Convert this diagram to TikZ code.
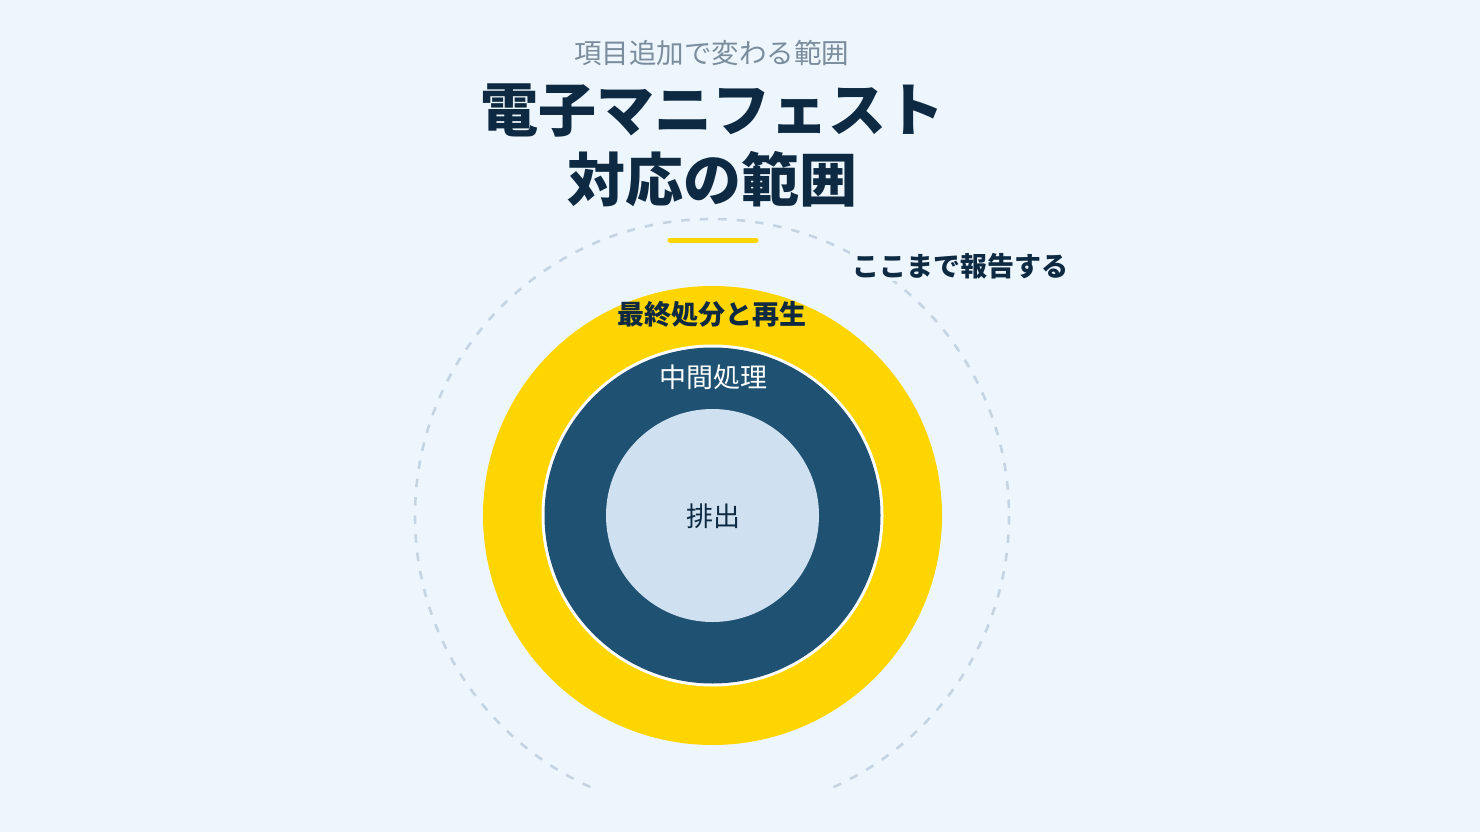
\documentclass[tikz,border=0pt]{standalone}
\usepackage{fontspec}
\setmainfont{Noto Sans CJK JP}
\definecolor{bg}{HTML}{EEF6FD}
\definecolor{navy}{HTML}{0D2A42}
\definecolor{ylw}{HTML}{FFD500}
\definecolor{midblue}{HTML}{1F5173}
\definecolor{pale}{HTML}{CFE0F0}
\definecolor{dashgray}{HTML}{C5D4E2}
\definecolor{subgray}{HTML}{7B8C9C}
\tikzset{
  lbl/.style={inner sep=0pt, anchor=center},
}
\begin{document}
\begin{tikzpicture}[x=1pt,y=-1pt]
\fill[bg] (0,0) rectangle (1480,832);
\useasboundingbox (0,0) rectangle (1480,832);
% dashed outer circle, clipped at bottom
\begin{scope}
\clip (0,0) rectangle (1480,789.5);
\draw[dashgray, line width=2.6pt, dash pattern=on 8.5pt off 10pt] (712,516) circle[radius=297];
\end{scope}
% rings
\fill[ylw] (712.5,515.5) circle[radius=229.5];
\fill[white] (712.5,515.5) circle[radius=171];
\fill[midblue] (712.5,515.5) circle[radius=168];
\fill[pale] (712.5,515.5) circle[radius=106.5];
% accent bar
\draw[ylw, line width=5pt, line cap=round] (670,240) -- (756,240);
% texts
\node[lbl, text=subgray, font=\fontsize{27.5}{30}\selectfont] (sub) at (711.5,53) {項目追加で変わる範囲};
\node[lbl, text=navy, font=\fontsize{58}{70}\bfseries\selectfont, align=center] (title) at (712,145) {電子マニフェスト\\対応の範囲};
\node[lbl, text=navy, fill=bg, inner sep=2pt, font=\fontsize{27}{30}\bfseries\selectfont] (report) at (960,266) {ここまで報告する};
\node[lbl, text=navy, font=\fontsize{27}{30}\bfseries\selectfont] (final) at (712,314) {最終処分と再生};
\node[lbl, text=white, font=\fontsize{27}{30}\selectfont] (mid) at (713,377) {中間処理};
\node[lbl, text=navy, font=\fontsize{27}{30}\selectfont] (emit) at (713,516) {排出};
\end{tikzpicture}
\end{document}
